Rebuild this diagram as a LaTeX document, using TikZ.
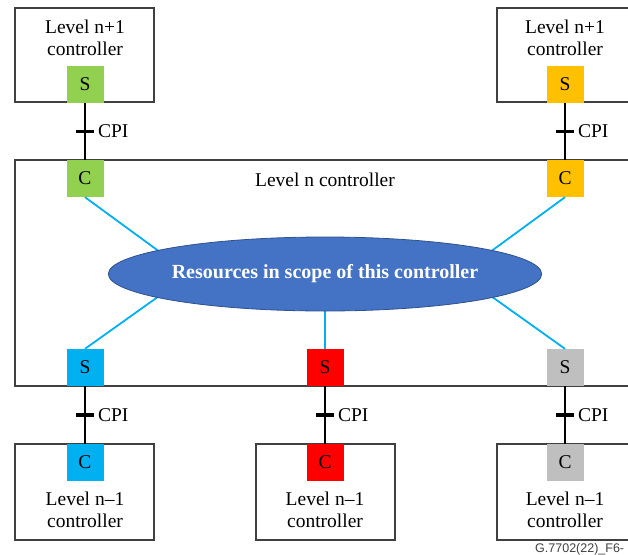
\documentclass[tikz,border=0pt]{standalone}
\usepackage{fontspec}
\setmainfont{Liberation Serif}
\setsansfont{Liberation Sans}
\usetikzlibrary{shapes.geometric}
\definecolor{cgreen}{HTML}{92D050}
\definecolor{corange}{HTML}{FFC000}
\definecolor{cblue}{HTML}{00B0F0}
\definecolor{cred}{HTML}{FF0000}
\definecolor{cgray}{HTML}{BFBFBF}
\definecolor{resfill}{HTML}{4472C4}
\definecolor{resedge}{HTML}{2F528F}
\definecolor{boxedge}{HTML}{404040}
\tikzset{
  ctrlbox/.style={draw=boxedge, line width=1.1pt},
  port/.style={minimum width=37pt, minimum height=37pt, inner sep=0pt, font=\fontsize{19.5}{21}\selectfont},
  ctrltext/.style={align=center, font=\fontsize{19.5}{22}\selectfont},
  cpi/.style={black, line width=2pt},
  tick/.style={fill=black, minimum width=18pt, minimum height=3.5pt, inner sep=0pt,
    label={[font=\fontsize{19.5}{21}\selectfont, inner sep=0pt, xshift=2pt]right:CPI}},
  reslink/.style={cblue, line width=1.8pt},
}
\begin{document}
\begin{tikzpicture}[x=1pt, y=-1pt]
\useasboundingbox (0,0) rectangle (628,554);
\clip (0,0) rectangle (628,554);

% controller frames
\draw[ctrlbox] (15,8) rectangle (154,102);
\draw[ctrlbox] (497,8) rectangle (660,102);
\draw[ctrlbox] (15,160) rectangle (660,386);
\draw[ctrlbox] (15,444) rectangle (154,540);
\draw[ctrlbox] (256,444) rectangle (395,540);
\draw[ctrlbox] (497,444) rectangle (660,540);

% frame captions
\node[ctrltext] (t1) at (85,38) {Level n+1\\controller};
\node[ctrltext] (t2) at (565,38) {Level n+1\\controller};
\node[ctrltext] (t3) at (325,180) {Level n controller};
\node[ctrltext] (t4) at (85,510) {Level n--1\\controller};
\node[ctrltext] (t5) at (325,510) {Level n--1\\controller};
\node[ctrltext] (t6) at (565,510) {Level n--1\\controller};

% hidden meeting points of the resource links
\coordinate (hl) at (190,274);
\coordinate (hr) at (460,274);
\coordinate (hm) at (325,290);

% ports
\node[port, fill=cgreen]  (S1) at (85,84)  {S};
\node[port, fill=corange] (S2) at (565,84) {S};
\node[port, fill=cgreen]  (C1) at (85,178.5)  {C};
\node[port, fill=corange] (C2) at (565,178.5) {C};
\node[port, fill=cblue] (S3) at (85,367.5)  {S};
\node[port, fill=cred]  (S4) at (325,367.5) {S};
\node[port, fill=cgray] (S5) at (565,367.5) {S};
\node[port, fill=cblue] (C3) at (85,462.5)  {C};
\node[port, fill=cred]  (C4) at (325,462.5) {C};
\node[port, fill=cgray] (C5) at (565,462.5) {C};

% links from the ports to the resources
\draw[reslink] (C1.south) -- (hl);
\draw[reslink] (S3.north) -- (hl);
\draw[reslink] (C2.south) -- (hr);
\draw[reslink] (S5.north) -- (hr);
\draw[reslink] (S4.north) -- (hm);

% resources
\node[ellipse, fill=resfill, draw=resedge, line width=0.8pt,
      minimum width=430pt, minimum height=74pt, inner sep=0pt,
      text=white, font=\bfseries\fontsize{20}{22}\selectfont]
  (res) at (325,274) {Resources in scope of this controller};

% CPI interfaces
\draw[cpi] (S1.south) -- node[tick] {} (C1.north);
\draw[cpi] (S2.south) -- node[tick] {} (C2.north);
\draw[cpi] (S3.south) -- node[tick] {} (C3.north);
\draw[cpi] (S4.south) -- node[tick] {} (C4.north);
\draw[cpi] (S5.south) -- node[tick] {} (C5.north);

% figure reference
\node[anchor=base west, inner sep=0pt, font=\sffamily\fontsize{12.5}{13}\selectfont, text=black!75]
  (ref) at (535,552) {G.7702(22)\_F6-};
\end{tikzpicture}
\end{document}
